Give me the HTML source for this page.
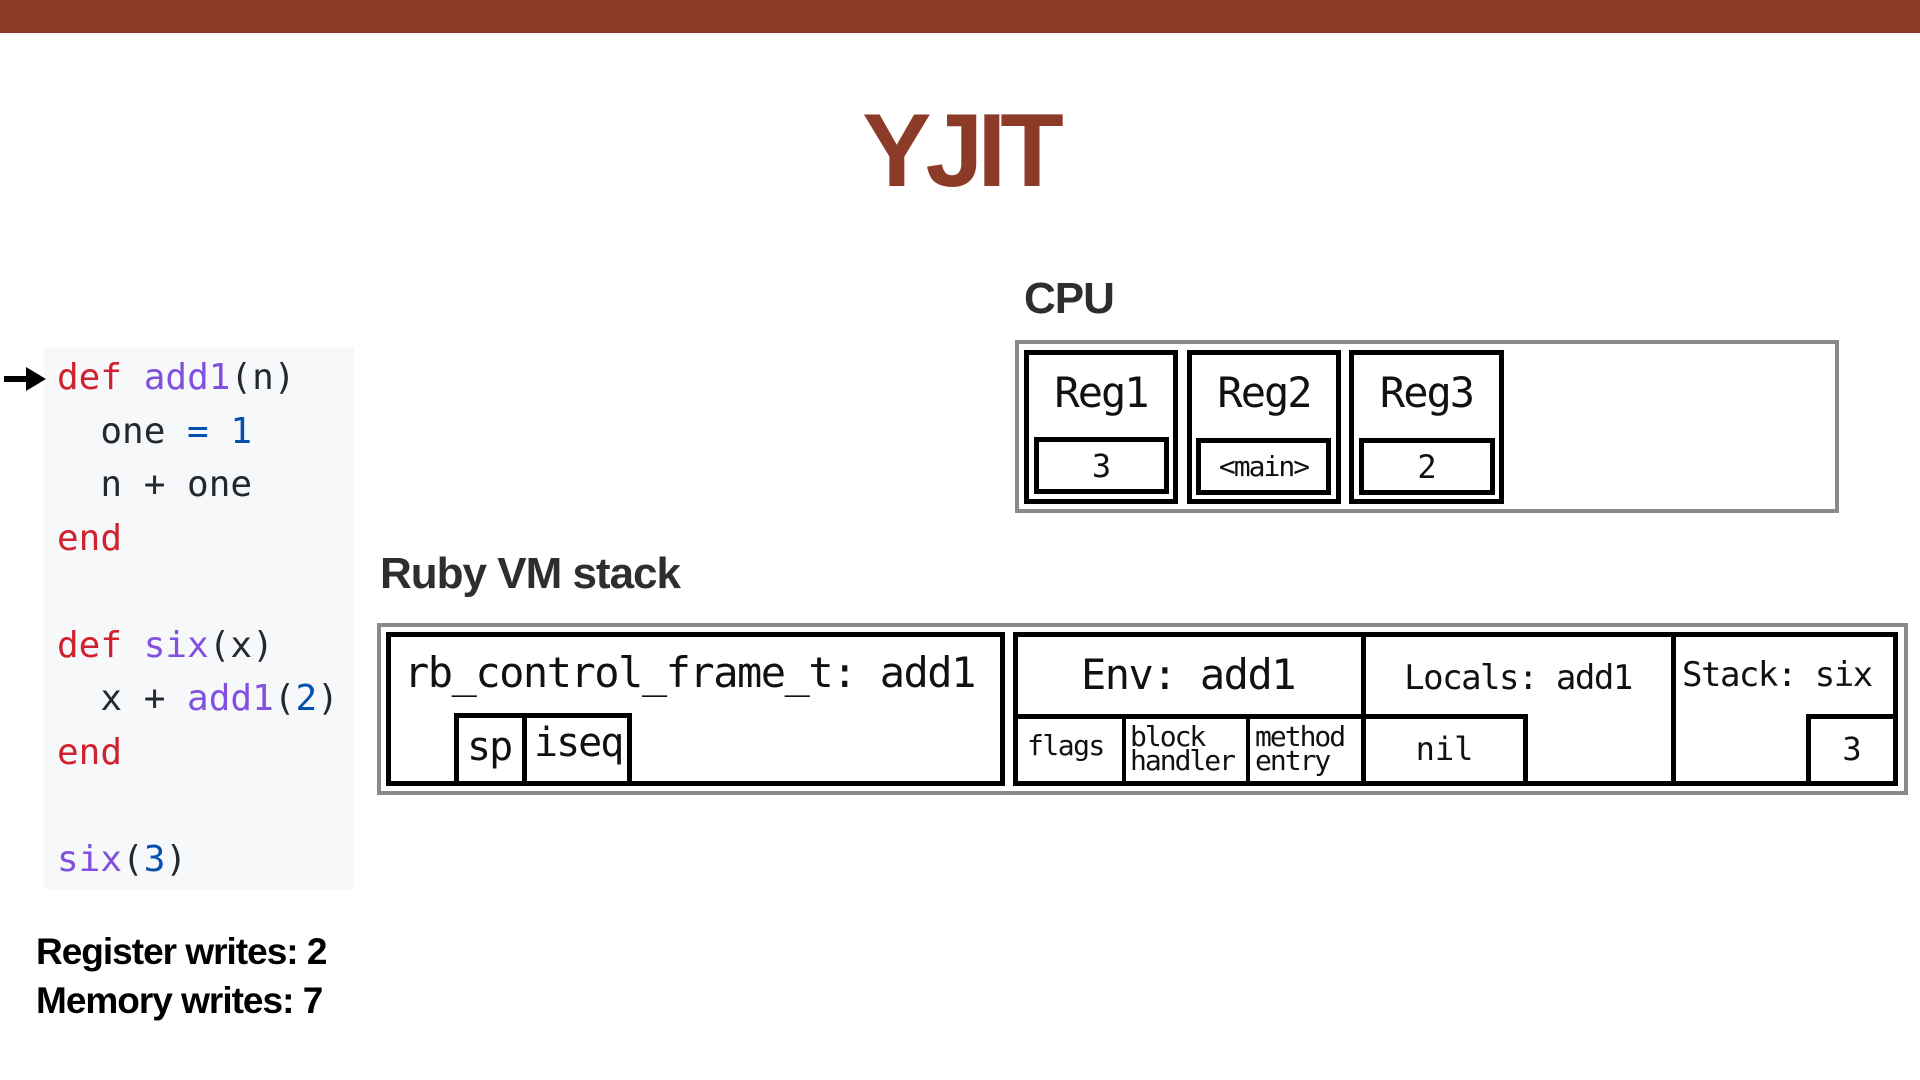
<!DOCTYPE html>
<html><head><meta charset="utf-8"><style>
*{box-sizing:border-box;margin:0;padding:0}
body{width:1920px;height:1080px;background:#fff;position:relative;overflow:hidden;font-family:"Liberation Sans",sans-serif}
.a{position:absolute}
.b{position:absolute;border:5px solid #000;background:#fff}
.g{position:absolute;border:4px solid #8a8a8a;background:#fff}
.m{font-family:"DejaVu Sans Mono",monospace;color:#111;white-space:pre}
.c{display:flex;align-items:center;justify-content:center}
.h{font-weight:bold;color:#2e2e30;font-size:44px;letter-spacing:-1px}
.code{font-family:"DejaVu Sans Mono",monospace;font-size:36px;color:#24292f;white-space:pre;line-height:53.5px}
.r{color:#cf222e}.p{color:#8250df}.n{color:#0550ae}
</style></head><body>
<div class="a" style="left:0;top:0;width:1920px;height:33px;background:#8b3b27"></div>
<div class="a" style="left:0;top:92px;width:1920px;text-align:center;font-size:104px;font-weight:bold;color:#8b3b27;letter-spacing:-6px">YJIT</div>

<div class="a h" style="left:1024px;top:274px">CPU</div>
<div class="g" style="left:1015px;top:340px;width:824px;height:173px"></div>
<div class="b" style="left:1024px;top:350px;width:154px;height:154px"></div>
<div class="b" style="left:1187px;top:350px;width:154px;height:154px"></div>
<div class="b" style="left:1349px;top:350px;width:155px;height:154px"></div>
<div class="a m c" style="left:1024px;top:362px;width:154px;height:60px;font-size:42px;letter-spacing:-2px">Reg1</div>
<div class="a m c" style="left:1187px;top:362px;width:154px;height:60px;font-size:42px;letter-spacing:-2px">Reg2</div>
<div class="a m c" style="left:1349px;top:362px;width:155px;height:60px;font-size:42px;letter-spacing:-2px">Reg3</div>
<div class="b m c" style="left:1034px;top:437px;width:135px;height:57px;font-size:32px">3</div>
<div class="b m c" style="left:1196px;top:438px;width:135px;height:57px;font-size:28px;letter-spacing:-2px">&lt;main&gt;</div>
<div class="b m c" style="left:1359px;top:438px;width:136px;height:57px;font-size:32px">2</div>

<div class="a h" style="left:380px;top:549px">Ruby VM stack</div>
<div class="g" style="left:377px;top:623px;width:1531px;height:172px"></div>
<div class="b" style="left:386px;top:632px;width:619px;height:154px"></div>
<div class="a m" style="left:404px;top:648px;font-size:42px;letter-spacing:-1.5px">rb_control_frame_t: add1</div>
<div class="b" style="left:454px;top:713px;width:178px;height:73px"></div>
<div class="a" style="left:522px;top:713px;width:5px;height:73px;background:#000"></div>
<div class="a m" style="left:467px;top:724px;font-size:40px;letter-spacing:-2px">sp</div>
<div class="a m" style="left:534px;top:720px;font-size:40px;letter-spacing:-2px">iseq</div>

<div class="b" style="left:1013px;top:632px;width:885px;height:154px"></div>
<div class="a" style="left:1361px;top:632px;width:5px;height:154px;background:#000"></div>
<div class="a" style="left:1671px;top:632px;width:5px;height:154px;background:#000"></div>
<div class="a" style="left:1013px;top:714px;width:353px;height:5px;background:#000"></div>
<div class="a" style="left:1122px;top:714px;width:4px;height:72px;background:#000"></div>
<div class="a" style="left:1246px;top:714px;width:4px;height:72px;background:#000"></div>
<div class="b" style="left:1361px;top:714px;width:167px;height:72px"></div>
<div class="b" style="left:1806px;top:714px;width:92px;height:72px"></div>
<div class="a m c" style="left:1013px;top:640px;width:350px;height:68px;font-size:42px;letter-spacing:-1.5px">Env: add1</div>
<div class="a m c" style="left:1363px;top:644px;width:310px;height:68px;font-size:34px;letter-spacing:-1.5px">Locals: add1</div>
<div class="a m" style="left:1682px;top:655px;font-size:34px;letter-spacing:-1.5px">Stack: six</div>
<div class="a m" style="left:1027px;top:729px;font-size:28px;letter-spacing:-1.5px">flags</div>
<div class="a m" style="left:1130px;top:725px;font-size:28px;letter-spacing:-2px;line-height:24px">block
handler</div>
<div class="a m" style="left:1255px;top:725px;font-size:28px;letter-spacing:-2px;line-height:24px">method
entry</div>
<div class="a m c" style="left:1366px;top:719px;width:157px;height:60px;font-size:32px">nil</div>
<div class="a m c" style="left:1811px;top:719px;width:82px;height:60px;font-size:32px">3</div>

<div class="a" style="left:44px;top:348px;width:310px;height:541px;background:#f6f8fa"></div>
<div class="a code" style="left:57px;top:351px"><span class="r">def</span> <span class="p">add1</span>(n)
  one <span class="n">=</span> <span class="n">1</span>
  n + one
<span class="r">end</span>

<span class="r">def</span> <span class="p">six</span>(x)
  x + <span class="p">add1</span>(<span class="n">2</span>)
<span class="r">end</span>

<span class="p">six</span>(<span class="n">3</span>)</div>
<svg class="a" style="left:2px;top:364px" width="46" height="30"><rect x="2" y="12" width="26" height="6" fill="#000"/><polygon points="24,3 44,15 24,27" fill="#000"/></svg>

<div class="a" style="left:36px;top:927px;font-size:37px;font-weight:bold;color:#000;letter-spacing:-1px;line-height:49px">Register writes: 2<br>Memory writes: 7</div>
</body></html>
